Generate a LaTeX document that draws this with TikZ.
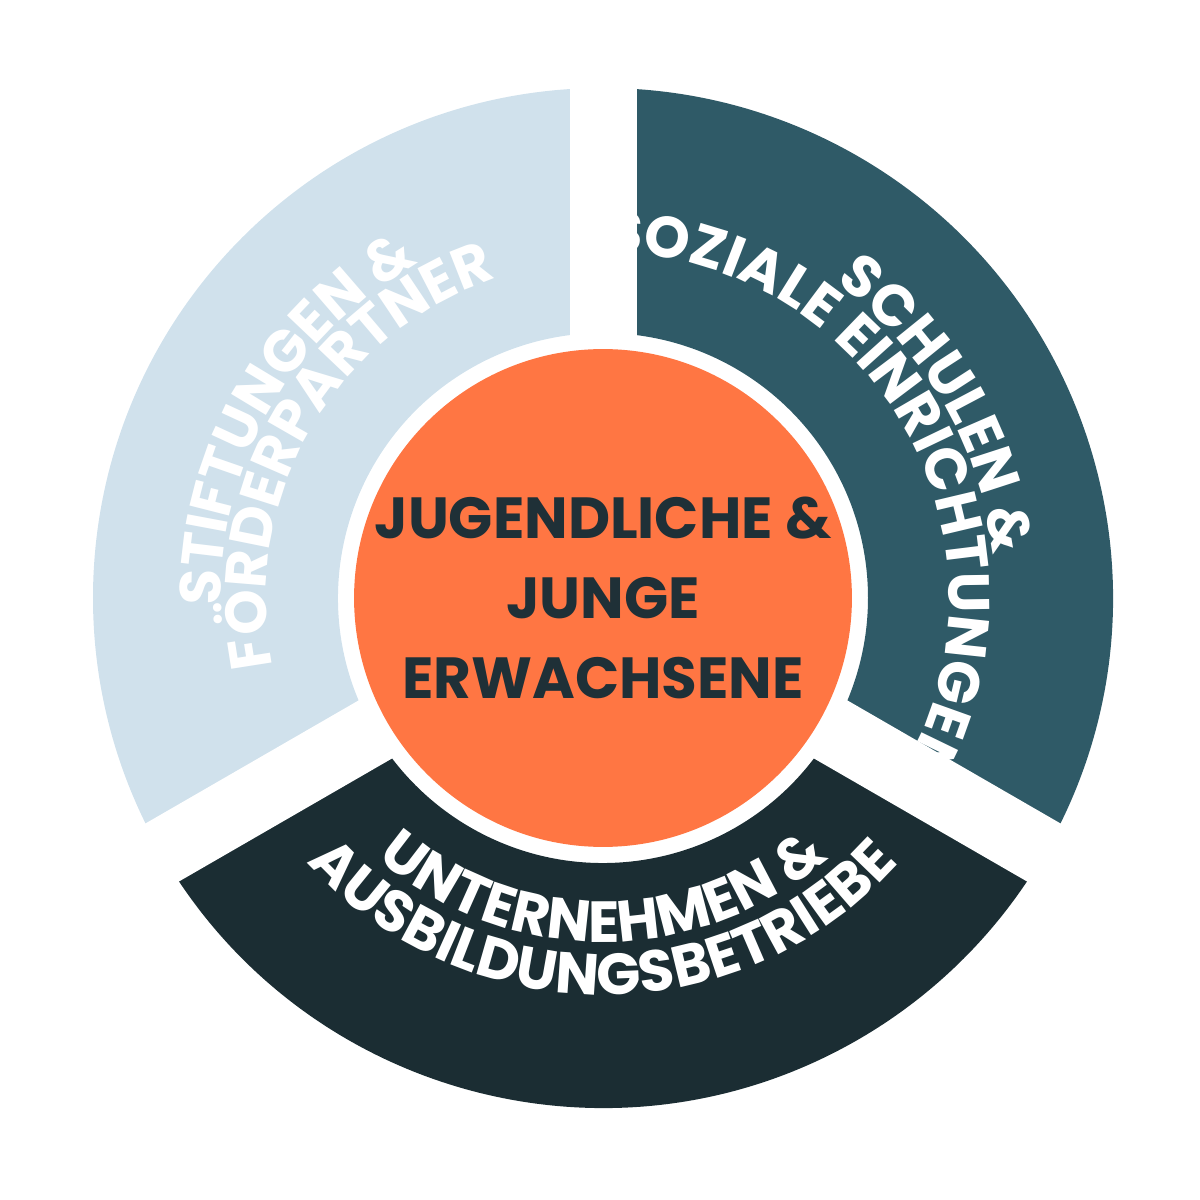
\documentclass[tikz,border=0pt]{standalone}
\usepackage{fontspec}
\setmainfont{Poppins}[BoldFont={* Bold}]
\usetikzlibrary{decorations.text,calc}
\definecolor{lblue}{HTML}{D0E1EC}
\definecolor{teal}{HTML}{2F5A67}
\definecolor{dteal}{HTML}{1B2D33}
\definecolor{orng}{HTML}{FF7643}
\definecolor{ctext}{HTML}{1F3037}
\newcommand{\ff}{\bfseries\fontsize{16.5}{16.5}\selectfont}
\tikzset{
 arctext/.style={decorate,decoration={text along path,text align=center,text color=white,text={#1}}}
}
\begin{document}
\begin{tikzpicture}
\useasboundingbox (0,0) rectangle (12,12);
\coordinate (c) at (6.03,6.02);
\fill[lblue] (c) ++(90:5.1) arc[start angle=90,end angle=210,radius=5.1] -- ($(c)+(210:2.65)$) arc[start angle=210,end angle=90,radius=2.65] -- cycle;
\fill[teal] (c) ++(-30:5.1) arc[start angle=-30,end angle=90,radius=5.1] -- ($(c)+(90:2.65)$) arc[start angle=90,end angle=-30,radius=2.65] -- cycle;
\fill[dteal] (c) ++(210:5.1) arc[start angle=210,end angle=330,radius=5.1] -- ($(c)+(330:2.65)$) arc[start angle=330,end angle=210,radius=2.65] -- cycle;
\foreach \a in {90,210,330} \draw[white,line width=0.67cm] (c) -- ++(\a:5.4);
\node[circle,fill=orng,minimum size=4.8cm,inner sep=0pt,align=center,text=ctext,font=\ff] (core) at (c) {JUGENDLICHE \&\\[0.22cm]JUNGE\\[0.22cm]ERWACHSENE};
\ff
\path[arctext={STIFTUNGEN {\&}}] (c) ++(215:3.82) arc[start angle=215,end angle=85,radius=3.82];
\path[arctext={F{Ö}RDERPARTNER}] (c) ++(215:3.37) arc[start angle=215,end angle=85,radius=3.37];
\path[arctext={SCHULEN {\&}}] (c) ++(95:3.92) arc[start angle=95,end angle=-35,radius=3.92];
\path[arctext={SOZIALE EINRICHTUNGEN}] (c) ++(95:3.46) arc[start angle=95,end angle=-35,radius=3.46];
\path[arctext={UNTERNEHMEN {\&}}] (c) ++(205:3.44) arc[start angle=205,end angle=335,radius=3.44];
\path[arctext={AUSBILDUNGSBETRIEBE}] (c) ++(205:3.97) arc[start angle=205,end angle=335,radius=3.97];
\end{tikzpicture}
\end{document}
